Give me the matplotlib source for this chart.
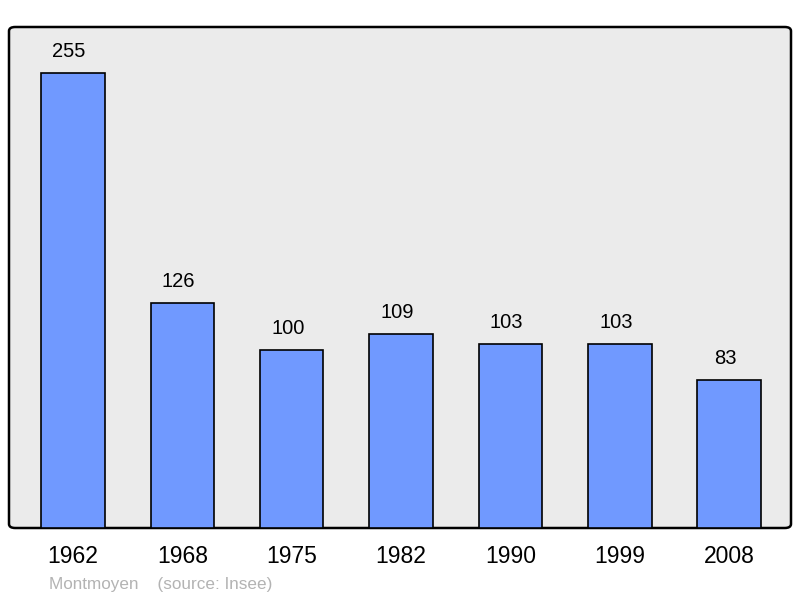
import matplotlib.pyplot as plt
from matplotlib.patches import FancyBboxPatch

years = ['1962', '1968', '1975', '1982', '1990', '1999', '2008']
population = [255, 126, 100, 109, 103, 103, 83]

plt.rcParams['font.family'] = ['Liberation Sans', 'DejaVu Sans']

fig = plt.figure(figsize=(8, 5.98), dpi=100)
ax = fig.add_axes([9/800, 1 - 528/598, 782/800, 501/598])
ax.set_facecolor('none')

x = range(len(years))
ax.bar(x, population, width=0.58, color='#7099ff', edgecolor='black', linewidth=1.2, zorder=2)
# value labels sit a little left of the bar centre, as in the original
for i, v in enumerate(population):
    ax.text(i - 0.035, v + 12, str(v), ha='center', va='center', fontsize=14.5)

ax.set_xlim(-0.585, 6.565)
ax.set_ylim(0, 281)
ax.set_xticks(list(x))
ax.set_xticklabels(years, fontsize=16.5)
ax.tick_params(axis='x', length=0, pad=12)
ax.set_yticks([])
for s in ax.spines.values():
    s.set_visible(False)

# rounded frame behind the bars
frame = FancyBboxPatch((0, 0), 1, 1, boxstyle='round,pad=0,rounding_size=0.008',
                       transform=ax.transAxes, facecolor='#ebebeb', edgecolor='black',
                       linewidth=1.8, zorder=0, clip_on=False)
ax.add_patch(frame)

fig.text(49/800, 1 - 584/598, 'Montmoyen    (source: Insee)', fontsize=12.3,
         color='#b3b3b3', ha='left', va='center')

fig.savefig('out.png', dpi=100)
